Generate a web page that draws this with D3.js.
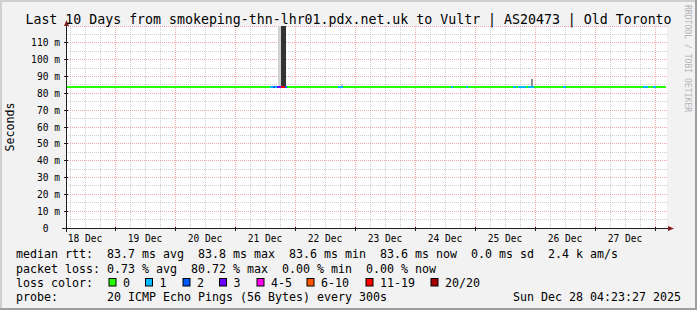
<!DOCTYPE html>
<html><head><meta charset="utf-8">
<script src="https://cdn.jsdelivr.net/npm/d3@7"></script>
<style>
html,body{margin:0;padding:0;background:#f2f2f2;}
svg{display:block;}
text{font-family:"DejaVu Sans Mono",monospace;white-space:pre;}
</style></head><body>
<script>
// ---------------- data ----------------
const titleText = "Last 10 Days from smokeping-thn-lhr01.pdx.net.uk to Vultr | AS20473 | Old Toronto";
const yAxisTitle = "Seconds";
const watermark = "RRDTOOL / TOBI OETIKER";
const timeStart = "2025-12-18T04:23:27Z";
const timeEnd   = "2025-12-28T04:23:27Z";
const yMax = 120;
const yTickValues = [0, 10, 20, 30, 40, 50, 60, 70, 80, 90, 100, 110];
const yTickLabels = ["0", "10 m", "20 m", "30 m", "40 m", "50 m", "60 m", "70 m", "80 m", "90 m", "100 m", "110 m"];
const xTickDates = ["2025-12-18T12:00:00Z","2025-12-19T12:00:00Z","2025-12-20T12:00:00Z","2025-12-21T12:00:00Z","2025-12-22T12:00:00Z",
                    "2025-12-23T12:00:00Z","2025-12-24T12:00:00Z","2025-12-25T12:00:00Z","2025-12-26T12:00:00Z","2025-12-27T12:00:00Z"];
const xTickLabels = ["18 Dec","19 Dec","20 Dec","21 Dec","22 Dec","23 Dec","24 Dec","25 Dec","26 Dec","27 Dec"];

// median rtt (ms), sampled
const medianTimes = ["2025-12-18T04:23:27Z","2025-12-18T16:00:00Z","2025-12-19T04:00:00Z","2025-12-19T16:00:00Z","2025-12-20T04:00:00Z",
  "2025-12-20T16:00:00Z","2025-12-21T04:00:00Z","2025-12-21T16:00:00Z","2025-12-22T04:00:00Z","2025-12-22T16:00:00Z",
  "2025-12-23T04:00:00Z","2025-12-23T16:00:00Z","2025-12-24T04:00:00Z","2025-12-24T16:00:00Z","2025-12-25T04:00:00Z",
  "2025-12-25T16:00:00Z","2025-12-26T04:00:00Z","2025-12-26T16:00:00Z","2025-12-27T04:00:00Z","2025-12-27T16:00:00Z","2025-12-28T04:23:27Z"];
const medianValues = [83.7,83.7,83.7,83.6,83.7,83.7,83.7,83.8,83.7,83.7,83.7,83.6,83.7,83.7,83.7,83.8,83.7,83.7,83.7,83.6,83.6];

// loss periods (pings lost out of 20)
const lossStart = ["2025-12-21T13:59:00Z","2025-12-21T15:11:00Z","2025-12-21T15:59:00Z","2025-12-21T16:47:00Z","2025-12-21T18:23:00Z",
  "2025-12-21T19:59:00Z","2025-12-22T17:11:00Z","2025-12-24T14:23:00Z","2025-12-24T20:23:00Z","2025-12-25T15:11:00Z",
  "2025-12-25T17:11:00Z","2025-12-25T21:11:00Z","2025-12-26T11:11:00Z","2025-12-27T19:11:00Z","2025-12-27T23:11:00Z"];
const lossEnd = ["2025-12-21T15:11:00Z","2025-12-21T15:59:00Z","2025-12-21T16:47:00Z","2025-12-21T18:23:00Z","2025-12-21T19:59:00Z",
  "2025-12-21T20:47:00Z","2025-12-22T19:11:00Z","2025-12-24T15:11:00Z","2025-12-24T21:11:00Z","2025-12-25T16:23:00Z",
  "2025-12-25T20:23:00Z","2025-12-25T23:35:00Z","2025-12-26T12:23:00Z","2025-12-27T21:11:00Z","2025-12-28T00:23:00Z"];
const lossCount = [1,2,1,3,16,2,1,1,1,1,1,1,1,1,1];

// smoke (rtt spread, ms)
const smokeStart = ["2025-12-21T17:11:00Z","2025-12-21T18:23:00Z","2025-12-22T18:23:00Z","2025-12-25T22:23:00Z"];
const smokeEnd   = ["2025-12-21T18:23:00Z","2025-12-21T20:23:00Z","2025-12-22T19:11:00Z","2025-12-25T23:11:00Z"];
const smokeLow   = [84, 84, 84, 84];
const smokeHigh  = [130, 130, 85.5, 88.5];
const smokeShade = ["#d2d2d2", "#333333", "#c4c4c4", "#8e8e8e"];

const lossColorLabels = ["0","1","2","3","4-5","6-10","11-19","20/20"];
const lossColorMin    = [0, 1, 2, 3, 4, 6, 11, 20];
const lossColors      = ["#26ff00","#00b8ff","#0059ff","#6a00ff","#ff00ea","#ff5500","#ff0000","#a10000"];

const legendRtt   = "median rtt:  83.7 ms avg  83.8 ms max  83.6 ms min  83.6 ms now  0.0 ms sd  2.4 k am/s";
const legendLoss  = "packet loss: 0.73 % avg  80.72 % max  0.00 % min  0.00 % now";
const legendColor = "loss color:";
const legendProbe = "probe:       20 ICMP Echo Pings (56 Bytes) every 300s";
const legendDate  = "Sun Dec 28 04:23:27 2025";

// ---------------- layout ----------------
const W = 697, H = 310;
const L = 66, R = 666, T = 26, B = 228;
const parse = s => new Date(s);

const svg = d3.select("body").append("svg").attr("width", W).attr("height", H);

// background + 3D frame
svg.append("rect").attr("x",0).attr("y",0).attr("width",W).attr("height",H).attr("fill","#f2f2f2");
svg.append("path").attr("d",`M0,0H${W}V2H2V${H}H0Z`).attr("fill","#cfcfcf");
svg.append("path").attr("d",`M${W},${H}H0V${H-2}H${W-2}V0H${W}Z`).attr("fill","#9e9e9e");

// plot canvas
svg.append("rect").attr("x",L).attr("y",T).attr("width",R-L+1).attr("height",B-T+1).attr("fill","#ffffff");

const x = d3.scaleUtc().domain([parse(timeStart), parse(timeEnd)]).range([L, R]);
const y = d3.scaleLinear().domain([0, yMax]).range([B, T]);
const px = v => Math.floor(v) + 0.5;

// grid
const grid = svg.append("g");
const t0 = parse(timeStart), t1 = parse(timeEnd);
d3.utcHour.every(6).range(t0, t1).forEach(d => {
  if (d.getUTCHours() === 0) return;
  grid.append("line").attr("x1",px(x(d))).attr("x2",px(x(d))).attr("y1",T).attr("y2",B)
    .attr("stroke","rgba(143,143,143,0.42)").attr("stroke-dasharray","1,1");
});
d3.range(5, yMax, 10).forEach(v => {
  grid.append("line").attr("x1",L).attr("x2",R+1).attr("y1",px(y(v))).attr("y2",px(y(v)))
    .attr("stroke","rgba(143,143,143,0.42)").attr("stroke-dasharray","1,1");
});
d3.utcDay.range(t0, t1).forEach(d => {
  if (+d === +d3.utcDay.floor(t0)) return;
  grid.append("line").attr("x1",px(x(d))).attr("x2",px(x(d))).attr("y1",T).attr("y2",B)
    .attr("stroke","rgba(222,79,79,0.5)").attr("stroke-dasharray","1,1");
});
yTickValues.concat([yMax]).forEach(v => {
  if (v === 0) return;
  grid.append("line").attr("x1",L).attr("x2",R+1).attr("y1",px(y(v))).attr("y2",px(y(v)))
    .attr("stroke","rgba(222,79,79,0.5)").attr("stroke-dasharray","1,1");
});

// clip
svg.append("clipPath").attr("id","plotclip").append("rect")
  .attr("x",L).attr("y",T).attr("width",R-L+1).attr("height",B-T);
const plot = svg.append("g").attr("clip-path","url(#plotclip)");

// smoke
smokeStart.forEach((s,i) => {
  const xa = x(parse(s)), xb = x(parse(smokeEnd[i]));
  plot.append("rect").attr("x",xa).attr("width",xb-xa)
    .attr("y",y(smokeHigh[i])).attr("height",y(smokeLow[i])-y(smokeHigh[i]))
    .attr("fill",smokeShade[i]).attr("shape-rendering","crispEdges");
});

// median line (green = 0 loss)
const medianData = medianTimes.map((t,i) => ({t: parse(t), v: medianValues[i]}));
const line = d3.line().x(d => x(d.t)).y(d => y(d.v)).curve(d3.curveStepAfter);
plot.append("path").datum(medianData).attr("d", line)
  .attr("fill","none").attr("stroke",lossColors[0]).attr("stroke-width",2)
  .attr("shape-rendering","crispEdges");

// loss colored segments
const medAt = t => { let v = medianValues[0]; medianData.forEach(d => { if (d.t <= t) v = d.v; }); return v; };
const lossColorOf = n => { let c = lossColors[0]; lossColorMin.forEach((m,k) => { if (n >= m) c = lossColors[k]; }); return c; };
lossStart.forEach((s,i) => {
  const ts = parse(s), te = parse(lossEnd[i]);
  const v = medAt(ts);
  plot.append("line").attr("x1",x(ts)).attr("x2",x(te)).attr("y1",y(v)).attr("y2",y(v))
    .attr("stroke",lossColorOf(lossCount[i])).attr("stroke-width",2)
    .attr("shape-rendering","crispEdges");
});

// axes
const axisCol = "#1f1f1f", arrowCol = "#801f1f";
svg.append("line").attr("x1",L-4).attr("x2",R+3).attr("y1",B+0.5).attr("y2",B+0.5).attr("stroke",axisCol);
svg.append("line").attr("x1",L+0.5).attr("x2",L+0.5).attr("y1",B+4).attr("y2",T-3).attr("stroke",axisCol);
svg.append("path").attr("d",`M${R+2},${B-2}L${R+8},${B+0.5}L${R+2},${B+3}Z`).attr("fill",arrowCol);
svg.append("path").attr("d",`M${L-2},${T}L${L+0.5},${T-6}L${L+3},${T}Z`).attr("fill",arrowCol);

// ticks
yTickValues.forEach(v => {
  svg.append("line").attr("x1",L-2).attr("x2",L+2).attr("y1",px(y(v))).attr("y2",px(y(v))).attr("stroke",axisCol);
});
d3.utcDay.range(t0, t1).forEach(d => {
  if (+d === +d3.utcDay.floor(t0)) return;
  svg.append("line").attr("x1",px(x(d))).attr("x2",px(x(d))).attr("y1",B-1).attr("y2",B+3).attr("stroke",axisCol);
});

// tick labels
const axisFont = 9.6;
yTickValues.forEach((v,i) => {
  const lab = yTickLabels[i].includes(" ") ? yTickLabels[i] : yTickLabels[i] + "  ";
  svg.append("text").attr("x",60).attr("y",y(v)+3.5).attr("text-anchor","end")
    .attr("font-size",axisFont).attr("fill","#000").text(lab);
});
xTickDates.forEach((d,i) => {
  svg.append("text").attr("x",x(parse(d))).attr("y",241.5).attr("text-anchor","middle")
    .attr("font-size",axisFont).attr("fill","#000").text(xTickLabels[i]);
});

// title
svg.append("text").attr("x",W/2).attr("y",24).attr("text-anchor","middle")
  .attr("font-size",13.25).attr("fill","#000").text(titleText);

// y axis title
svg.append("text").attr("transform",`translate(14,${(T+B)/2}) rotate(-90)`).attr("text-anchor","middle")
  .attr("font-size",11.6).attr("fill","#000").text(yAxisTitle);

// watermark
svg.append("text").attr("transform",`translate(685,5) rotate(90)`).attr("text-anchor","start")
  .attr("font-size",8.1).attr("fill","#b4b4b4").text(watermark);

// legend
const lf = 11.63;
const rows = [258.4, 272.5, 286.6, 300.7];
svg.append("text").attr("x",16).attr("y",rows[0]).attr("font-size",lf).text(legendRtt);
svg.append("text").attr("x",16).attr("y",rows[1]).attr("font-size",lf).text(legendLoss);
svg.append("text").attr("x",16).attr("y",rows[2]).attr("font-size",lf).text(legendColor);
svg.append("text").attr("x",16).attr("y",rows[3]).attr("font-size",lf).text(legendProbe);
svg.append("text").attr("x",681).attr("y",rows[3]).attr("font-size",lf).attr("text-anchor","end").text(legendDate);

const boxX = [109, 145.5, 183, 219.5, 257, 307, 366, 431];
lossColorLabels.forEach((lab,i) => {
  svg.append("rect").attr("x",boxX[i]).attr("y",278.5).attr("width",7).attr("height",7.5)
    .attr("fill",lossColors[i]).attr("stroke","#000").attr("stroke-width",1);
  svg.append("text").attr("x",boxX[i]+14).attr("y",rows[2]).attr("font-size",lf).text(lab);
});
</script>
</body></html>
